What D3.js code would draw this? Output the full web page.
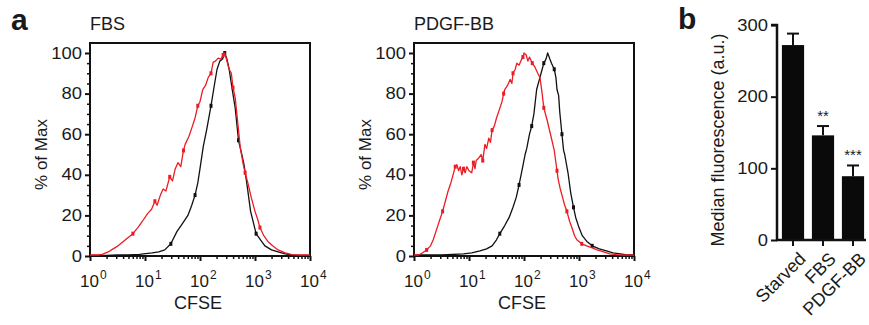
<!DOCTYPE html>
<html>
<head>
<meta charset="utf-8">
<script src="https://cdn.jsdelivr.net/npm/d3@7"></script>
<style>
    body { margin: 0; background: #fff; }
    text { font-family: "Liberation Sans", Arial, Helvetica, sans-serif; fill: #1a1a1a; }
</style>
</head>
<body>
<svg id="chart" width="869" height="325"></svg>
<script>
// ---- panel a: CFSE histograms (x as log10 CFSE, y as % of max) ----
const fbsBlackLog = [0, 0.3, 0.5, 0.69, 0.9, 1.13, 1.25, 1.36, 1.47, 1.58, 1.68, 1.78, 1.85, 1.91, 1.96, 2.0, 2.06, 2.12, 2.2, 2.26, 2.31, 2.36, 2.41, 2.45, 2.49, 2.53, 2.58, 2.64, 2.7, 2.76, 2.8, 2.85, 2.92, 3.02, 3.1, 3.18, 3.3, 3.42, 3.55, 3.67, 3.8, 4.0];
const fbsBlackPct = [0.3, 0.3, 0.5, 0.6, 0.8, 1.5, 2, 3, 6, 12, 16, 20, 25, 30, 36, 43, 54, 62, 74, 84, 92, 96, 97, 100, 97, 92, 83, 73, 57, 50, 45, 36, 22, 11, 8, 5, 3, 2, 1, 0.5, 0.3, 0.3];

const fbsRedLog = [0, 0.15, 0.22, 0.33, 0.42, 0.51, 0.6, 0.69, 0.78, 0.87, 0.95, 1.05, 1.12, 1.18, 1.22, 1.28, 1.33, 1.38, 1.45, 1.5, 1.55, 1.6, 1.65, 1.7, 1.73, 1.8, 1.85, 1.91, 1.96, 2.0, 2.05, 2.1, 2.15, 2.2, 2.24, 2.28, 2.33, 2.38, 2.42, 2.45, 2.49, 2.53, 2.57, 2.6, 2.64, 2.67, 2.73, 2.78, 2.82, 2.87, 2.93, 3.0, 3.05, 3.09, 3.16, 3.24, 3.32, 3.42, 3.55, 3.67, 3.8, 4.0];
const fbsRedPct = [0.5, 0.5, 0.8, 2, 3.5, 5, 7, 9, 11, 14, 17, 21, 23, 27, 25, 30, 33, 32, 39, 37, 43, 46, 44, 52, 55, 59, 63, 68, 74, 76, 82, 84, 88, 90, 95.5, 96, 97.5, 97, 99, 100, 96, 92, 90, 83, 78, 70, 54, 46, 41, 36, 29, 22, 18, 14, 10, 7, 5, 3, 1.5, 0.7, 0.5, 0.5];

const pdgfBlackLog = [0, 0.5, 0.9, 1.05, 1.2, 1.32, 1.42, 1.5, 1.56, 1.65, 1.73, 1.8, 1.86, 1.91, 1.97, 2.02, 2.05, 2.1, 2.14, 2.18, 2.23, 2.29, 2.33, 2.36, 2.4, 2.43, 2.47, 2.5, 2.55, 2.58, 2.6, 2.63, 2.65, 2.69, 2.72, 2.74, 2.8, 2.85, 2.9, 2.94, 3.0, 3.06, 3.15, 3.24, 3.37, 3.5, 3.62, 3.75, 3.88, 4.0];
const pdgfBlackPct = [0.5, 0.5, 1, 1.5, 2.5, 3.5, 5, 8, 11, 15, 19, 24, 29, 35, 43, 50, 53, 60, 64, 70, 82, 88, 92, 95, 97, 100, 97, 95, 92, 88, 82, 79, 71, 60, 52, 50, 41, 31, 24, 19, 14, 10, 7, 5, 3.5, 2.5, 1.5, 1, 0.5, 0.5];

const pdgfRedLog = [0, 0.08, 0.15, 0.23, 0.3, 0.35, 0.41, 0.47, 0.52, 0.56, 0.62, 0.67, 0.71, 0.75, 0.78, 0.81, 0.84, 0.87, 0.9, 0.93, 0.96, 1.0, 1.05, 1.08, 1.11, 1.13, 1.17, 1.22, 1.25, 1.29, 1.32, 1.36, 1.39, 1.42, 1.46, 1.5, 1.55, 1.6, 1.63, 1.65, 1.7, 1.75, 1.78, 1.8, 1.84, 1.87, 1.91, 1.95, 1.98, 2.0, 2.04, 2.07, 2.1, 2.15, 2.2, 2.25, 2.29, 2.33, 2.36, 2.42, 2.49, 2.55, 2.56, 2.6, 2.62, 2.66, 2.69, 2.74, 2.78, 2.83, 2.87, 2.92, 2.96, 3.05, 3.14, 3.24, 3.33, 3.45, 3.56, 3.68, 3.8, 4.0];
const pdgfRedPct = [0.5, 0.5, 1.5, 3, 5, 8, 13, 18, 22, 26, 32, 36, 40, 44, 45, 42, 44, 40, 43, 41, 44, 42, 41, 46, 43, 47, 48, 50, 47, 55, 53, 58, 56, 62, 64, 68, 72, 76, 80, 82, 84, 87, 85, 90, 92, 95, 94, 96.5, 98, 100, 99, 96, 98, 95, 93, 90, 88, 80, 73, 67, 59, 52, 50, 42, 38, 33, 30, 25, 22, 17, 14, 10, 8, 6, 5, 4, 3, 2, 1, 0.7, 0.5, 0.5];

const pctTicks = [0, 20, 40, 60, 80, 100];
const decadeTicks = [0, 1, 2, 3, 4];

// ---- panel b: median fluorescence ----
const conditions = ["Starved", "FBS", "PDGF-BB"];
const medianValues = [272, 146, 89];
const medianErrors = [16, 13, 15];
const significance = ["", "**", "***"];
const fluoTicks = [0, 100, 200, 300];

const RED = "#ec1c24";
const svg = d3.select("#chart");

// tick digits in the original are set wider than the rest of the text
function widen(sel, f) {
    sel.each(function() {
        let w = this.getComputedTextLength();
        this.setAttribute("textLength", w * f);
        this.setAttribute("lengthAdjust", "spacingAndGlyphs");
    });
}

// panel letters
svg.append("text").attr("x", 11).attr("y", 30).attr("font-size", 30).attr("font-weight", "bold").text("a");
svg.append("text").attr("x", 678).attr("y", 29).attr("font-size", 30).attr("font-weight", "bold").text("b");

function drawHistogram(left, title, curves) {
    const right = left + 220;
    const x = d3.scaleLog().domain([1, 1e4]).range([left, right]);
    const y = d3.scaleLinear().domain([0, 100]).range([256, 53]);
    const g = svg.append("g");

    g.append("text").attr("x", left).attr("y", 30).attr("font-size", 18).text(title);

    // frame
    g.append("rect").attr("x", left).attr("y", 43).attr("width", right - left).attr("height", 256 - 43)
        .attr("fill", "none").attr("stroke", "#111").attr("stroke-width", 2);

    // curves
    let line = d3.line().x(d => x(Math.pow(10, d[0]))).y(d => y(d[1]));
    curves.forEach(c => {
        let pts = c.logs.map((v, i) => [v, c.pcts[i]]);
        g.append("path").datum(pts).attr("d", line)
            .attr("fill", "none").attr("stroke", c.color).attr("stroke-width", 1.3)
            .attr("stroke-linejoin", "round");
        g.selectAll(null).data(pts.filter((d, i) => i % 5 === 3 && d[1] > 2)).join("rect")
            .attr("x", d => x(Math.pow(10, d[0])) - 1.5).attr("y", d => y(d[1]) - 2)
            .attr("width", 3).attr("height", 4).attr("fill", c.color);
    });

    // y axis, major + minor
    let yMinor = d3.range(0, 101, 5).filter(v => v % 20 !== 0);
    g.append("g").attr("transform", `translate(${left},0)`)
        .call(d3.axisLeft(y).tickValues(yMinor).tickSize(3).tickFormat(""))
        .call(a => a.select(".domain").remove())
        .call(a => a.selectAll("line").attr("stroke", "#111").attr("stroke-width", 1.5));
    g.append("g").attr("transform", `translate(${left},0)`)
        .call(d3.axisLeft(y).tickValues(pctTicks).tickSize(5).tickPadding(3))
        .call(a => a.select(".domain").remove())
        .call(a => a.selectAll("line").attr("stroke", "#111").attr("stroke-width", 2))
        .call(a => a.selectAll("text").attr("font-size", 16).attr("font-family", null).attr("fill", "#1a1a1a"))
        .call(a => widen(a.selectAll("text"), 1.15));

    // x axis, decades + minor log ticks
    let xMinor = [];
    for (let k = 0; k < 4; k++) for (let m = 2; m < 10; m++) xMinor.push(m * Math.pow(10, k));
    g.append("g").attr("transform", "translate(0,256)")
        .call(d3.axisBottom(x).tickValues(xMinor).tickSize(3).tickFormat(""))
        .call(a => a.select(".domain").remove())
        .call(a => a.selectAll("line").attr("stroke", "#111").attr("stroke-width", 1.5));
    g.append("g").attr("transform", "translate(0,256)")
        .call(d3.axisBottom(x).tickValues(decadeTicks.map(k => Math.pow(10, k))).tickSize(5).tickFormat(""))
        .call(a => a.select(".domain").remove())
        .call(a => a.selectAll("line").attr("stroke", "#111").attr("stroke-width", 2));
    decadeTicks.forEach(k => {
        let t = g.append("text").attr("x", x(Math.pow(10, k)) - 10).attr("y", 287).attr("font-size", 17);
        t.append("tspan").text("10");
        t.append("tspan").attr("dy", -8).attr("dx", 1).attr("font-size", 12).text(k);
    });

    g.append("text").attr("x", (left + right) / 2 - 2).attr("y", 309).attr("text-anchor", "middle")
        .attr("font-size", 18).text("CFSE");
    g.append("text").attr("transform", `translate(${left - 43},${(53 + 256) / 2}) rotate(-90)`)
        .attr("text-anchor", "middle").attr("font-size", 17).text("% of Max");
}

drawHistogram(90, "FBS", [
    { logs: fbsBlackLog, pcts: fbsBlackPct, color: "#111" },
    { logs: fbsRedLog, pcts: fbsRedPct, color: RED }
]);
drawHistogram(414, "PDGF-BB", [
    { logs: pdgfBlackLog, pcts: pdgfBlackPct, color: "#111" },
    { logs: pdgfRedLog, pcts: pdgfRedPct, color: RED }
]);

// ---- bar chart ----
let yb = d3.scaleLinear().domain([0, 300]).range([240, 25]);
let xb = d3.scaleBand().domain(conditions).range([778, 868]).paddingInner(0.26).paddingOuter(0.13);
let gb = svg.append("g");

let barData = conditions.map((c, i) => ({ name: c, value: medianValues[i], err: medianErrors[i], sig: significance[i] }));

// error bars (upper only)
gb.selectAll(".err").data(barData).join("g").attr("class", "err").each(function(d) {
    let cx = xb(d.name) + xb.bandwidth() / 2;
    let s = d3.select(this);
    s.append("line").attr("x1", cx).attr("x2", cx).attr("y1", yb(d.value)).attr("y2", yb(d.value + d.err))
        .attr("stroke", "#111").attr("stroke-width", 2);
    s.append("line").attr("x1", cx - 6).attr("x2", cx + 6).attr("y1", yb(d.value + d.err)).attr("y2", yb(d.value + d.err))
        .attr("stroke", "#111").attr("stroke-width", 2);
});

gb.selectAll(".bar").data(barData).join("rect").attr("class", "bar")
    .attr("x", d => xb(d.name)).attr("width", xb.bandwidth())
    .attr("y", d => yb(d.value)).attr("height", d => yb(0) - yb(d.value))
    .attr("fill", "#0a0a0a");

gb.selectAll(".sig").data(barData).join("text").attr("class", "sig")
    .attr("x", d => xb(d.name) + xb.bandwidth() / 2).attr("y", d => yb(d.value + d.err) - 5)
    .attr("text-anchor", "middle").attr("font-size", 15).text(d => d.sig);

gb.append("g").attr("transform", "translate(777,0)")
    .call(d3.axisLeft(yb).tickValues(fluoTicks).tickSize(6).tickPadding(3))
    .call(a => a.select(".domain").attr("stroke", "#111").attr("stroke-width", 2.5).attr("d", `M-6,${yb(300)}H0V${yb(0)}`))
    .call(a => a.selectAll("line").attr("stroke", "#111").attr("stroke-width", 2))
    .call(a => a.selectAll("text").attr("font-size", 16).attr("font-family", null).attr("fill", "#1a1a1a"))
    .call(a => widen(a.selectAll("text"), 1.15));

gb.append("line").attr("x1", 776).attr("x2", 866).attr("y1", 240).attr("y2", 240)
    .attr("stroke", "#111").attr("stroke-width", 2.5);
gb.selectAll(".xt").data(conditions).join("line").attr("class", "xt")
    .attr("x1", d => xb(d) + xb.bandwidth() / 2).attr("x2", d => xb(d) + xb.bandwidth() / 2)
    .attr("y1", 240).attr("y2", 246).attr("stroke", "#111").attr("stroke-width", 2);
gb.selectAll(".xl").data(conditions).join("text").attr("class", "xl")
    .attr("transform", d => `translate(${xb(d) + xb.bandwidth() / 2 + 5},${251}) rotate(-45)`)
    .attr("text-anchor", "end").attr("dy", "0.7em").attr("font-size", 18).text(d => d);

gb.append("text").attr("transform", `translate(724,140) rotate(-90)`)
    .attr("text-anchor", "middle").attr("font-size", 18).text("Median fluorescence (a.u.)");
</script>
</body>
</html>
